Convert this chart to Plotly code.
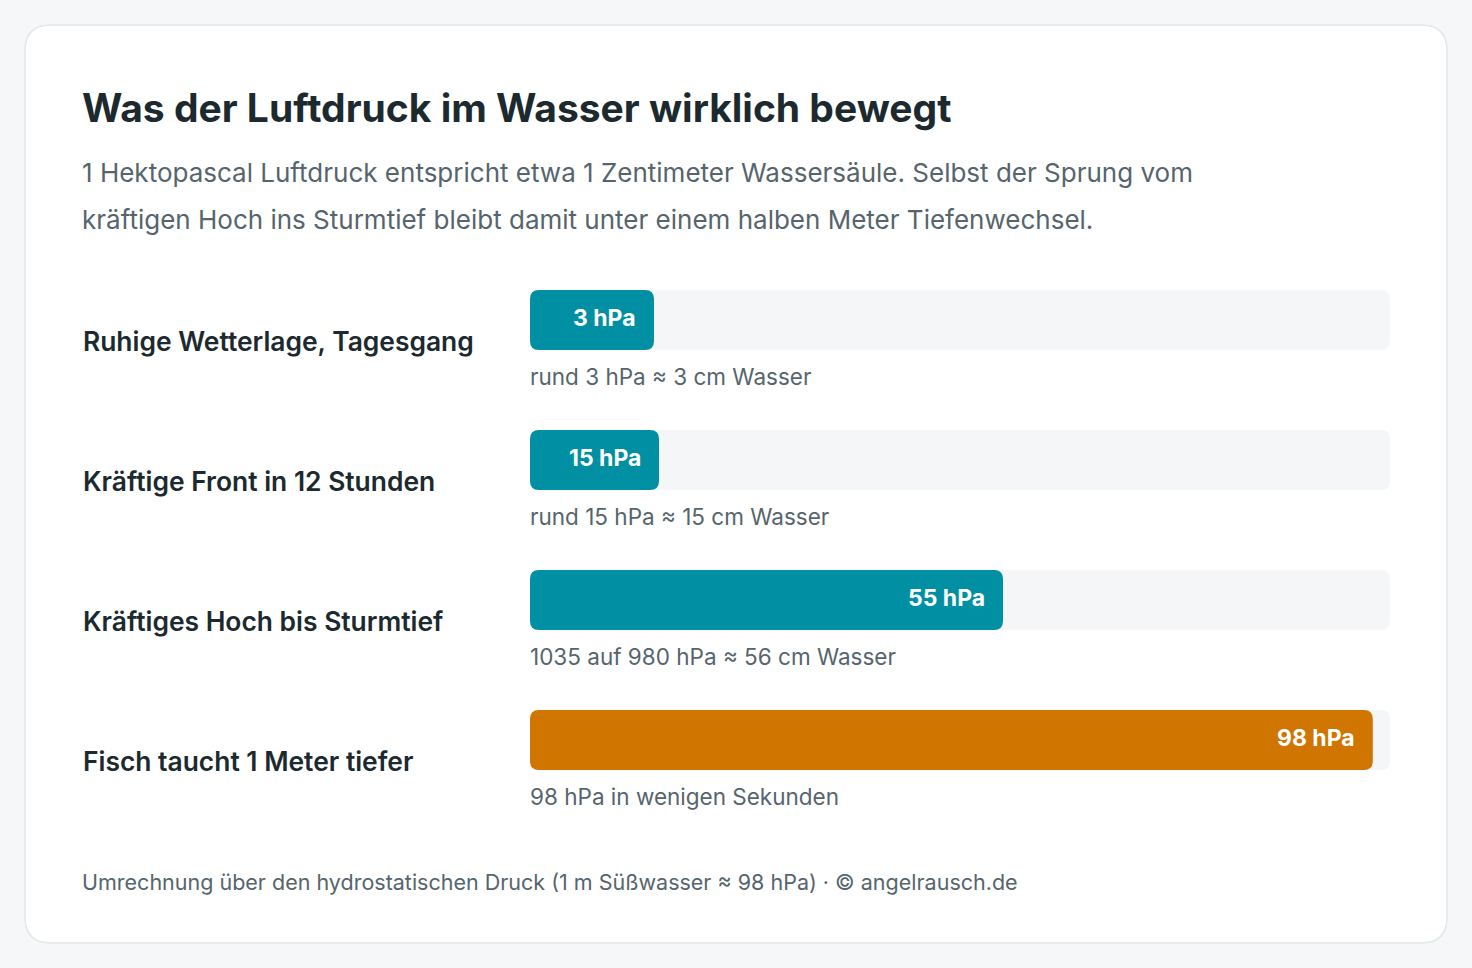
import plotly.graph_objects as go

# ---- data ----
categories = [
    "Ruhige Wetterlage, Tagesgang",
    "Kräftige Front in 12 Stunden",
    "Kräftiges Hoch bis Sturmtief",
    "Fisch taucht 1 Meter tiefer",
]
values_hpa = [3, 15, 55, 98]
value_labels = ["3 hPa", "15 hPa", "55 hPa", "98 hPa"]
captions = [
    "rund 3 hPa ≈ 3 cm Wasser",
    "rund 15 hPa ≈ 15 cm Wasser",
    "1035 auf 980 hPa ≈ 56 cm Wasser",
    "98 hPa in wenigen Sekunden",
]
highlight = [False, False, False, True]
axis_max = 100

title = "Was der Luftdruck im Wasser wirklich bewegt"
subtitle_lines = [
    "1 Hektopascal Luftdruck entspricht etwa 1 Zentimeter Wassersäule. Selbst der Sprung vom",
    "kräftigen Hoch ins Sturmtief bleibt damit unter einem halben Meter Tiefenwechsel.",
]
footer = "Umrechnung über den hydrostatischen Druck (1 m Süßwasser ≈ 98 hPa) · © angelrausch.de"

# ---- style ----
W, H = 1472, 968
FONT = "Inter"
BG = "#f5f7f8"
CARD_BORDER = "#e2e7ea"
TRACK = "#f4f6f8"
TEAL = "#0190a3"
ORANGE = "#cf7500"
DARK = "#1c2a30"
GRAY = "#56656d"
TRACK_X0, TRACK_X1 = 530, 1390
BAR_H = 60
ROW_TOP0 = 290
ROW_STEP = 140
MIN_BAR_PX = 124
RADIUS = 9
TXT_SHIFT = -2

px_per_unit = (TRACK_X1 - TRACK_X0) / axis_max


def px(x):
    return x / W


def py(y):
    return 1 - y / H


def rounded_path(x0, x1, y0, y1, rx, ry):
    return (
        f"M {x0 + rx},{y0} L {x1 - rx},{y0} Q {x1},{y0} {x1},{y0 + ry} "
        f"L {x1},{y1 - ry} Q {x1},{y1} {x1 - rx},{y1} "
        f"L {x0 + rx},{y1} Q {x0},{y1} {x0},{y1 - ry} "
        f"L {x0},{y0 + ry} Q {x0},{y0} {x0 + rx},{y0} Z"
    )


fig = go.Figure()
shapes = []
annotations = []

# card
cr = 26
shapes.append(dict(
    type="path", xref="paper", yref="paper",
    path=rounded_path(px(25), px(1447), py(943), py(25), cr / W, cr / H),
    fillcolor="white", line=dict(color=CARD_BORDER, width=1.5), layer="below",
))

rx_u = RADIUS / px_per_unit
min_units = MIN_BAR_PX / px_per_unit
for i, (cat, v, lab, cap, hl) in enumerate(zip(categories, values_hpa, value_labels, captions, highlight)):
    top = ROW_TOP0 + i * ROW_STEP
    bot = top + BAR_H
    # track
    shapes.append(dict(type="path", xref="x", yref="y",
                       path=rounded_path(0, axis_max, top, bot, rx_u, RADIUS),
                       fillcolor=TRACK, line=dict(width=0), layer="below"))
    disp = max(v, min_units)
    shapes.append(dict(type="path", xref="x", yref="y",
                       path=rounded_path(0, disp, top, bot, rx_u, RADIUS),
                       fillcolor=ORANGE if hl else TEAL, line=dict(width=0), layer="above"))
    annotations.append(dict(x=disp, y=(top + bot) / 2, xref="x", yref="y",
                            text=f"<b>{lab}</b>", showarrow=False, xanchor="right", yanchor="middle",
                            xshift=-16, yshift=2, font=dict(family=FONT, size=23, color="white")))
    annotations.append(dict(x=px(83), y=py(top + 51), xref="paper", yref="paper",
                            text=cat, showarrow=False, xanchor="left", yanchor="middle", xshift=TXT_SHIFT,
                            font=dict(family=FONT, size=26.4, color=DARK, weight=600)))
    annotations.append(dict(x=px(TRACK_X0), y=py(bot + 26), xref="paper", yref="paper",
                            text=cap, showarrow=False, xanchor="left", yanchor="middle", xshift=TXT_SHIFT,
                            font=dict(family=FONT, size=22.5, color=GRAY)))

annotations.append(dict(x=px(82), y=py(108), xref="paper", yref="paper", text=f"<b>{title}</b>",
                        showarrow=False, xanchor="left", yanchor="middle", xshift=TXT_SHIFT,
                        font=dict(family=FONT, size=39, color=DARK)))
for j, line in enumerate(subtitle_lines):
    annotations.append(dict(x=px(82), y=py(173 + j * 46), xref="paper", yref="paper", text=line,
                            showarrow=False, xanchor="left", yanchor="middle", xshift=TXT_SHIFT,
                            font=dict(family=FONT, size=26, color=GRAY)))
annotations.append(dict(x=px(82), y=py(882), xref="paper", yref="paper", text=footer,
                        showarrow=False, xanchor="left", yanchor="middle", xshift=TXT_SHIFT,
                        font=dict(family=FONT, size=21.5, color=GRAY)))

fig.update_layout(
    width=W, height=H, margin=dict(l=0, r=0, t=0, b=0),
    paper_bgcolor=BG, plot_bgcolor="rgba(0,0,0,0)",
    shapes=shapes, annotations=annotations, showlegend=False,
    xaxis=dict(range=[0, axis_max], domain=[TRACK_X0 / W, TRACK_X1 / W], visible=False, fixedrange=True),
    yaxis=dict(range=[H, 0], domain=[0, 1], visible=False, fixedrange=True),
)

fig.write_html(
    "out.html",
    config={"displayModeBar": False},
    post_script=(
        "document.body.style.margin='0';document.body.style.overflow='hidden';"
        f"document.body.style.background='{BG}';"
    ),
)
